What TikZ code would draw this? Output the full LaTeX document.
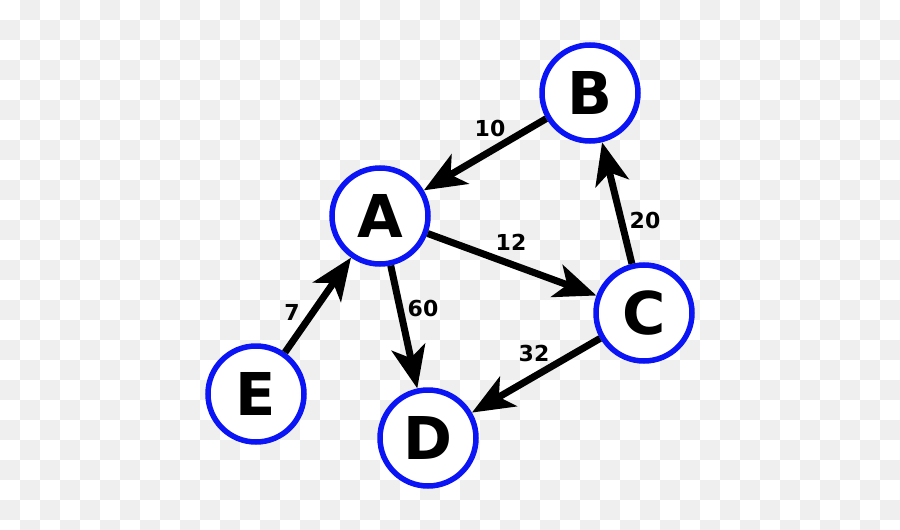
\documentclass[tikz,border=0pt]{standalone}
\usepackage{fontspec}
\setmainfont{DejaVu Sans}
\usetikzlibrary{arrows.meta}
\definecolor{chk}{HTML}{EFEFEF}
\definecolor{nodeblue}{HTML}{0A14F5}
\tikzset{
  vert/.style={circle, draw=nodeblue, fill=white, line width=5.5pt, minimum size=96pt, inner sep=0pt, font=\fontsize{59}{60}\selectfont\bfseries},
  edge/.style={line width=7pt, -{Stealth[length=42pt, width=34pt, inset=11pt]}},
  wlabel/.style={font=\fontsize{22}{24}\selectfont\bfseries, inner sep=0pt}
}
\begin{document}
\begin{tikzpicture}[x=1pt, y=-1pt]
\useasboundingbox (0,0) rectangle (900,530);
\clip (0,0) rectangle (900,530);
\fill[white] (0,0) rectangle (900,530);
\foreach \i in {0,...,44}{\foreach \j in {0,...,26}{%
  \pgfmathtruncatemacro\k{mod(\i+\j,2)}%
  \ifnum\k=1 \fill[chk] (\i*20,\j*20) rectangle ++(20,20);\fi}}
\node[vert] (A) at (380,216) {A};
\node[vert] (B) at (590,93) {B};
\node[vert] (C) at (644,313) {C};
\node[vert] (D) at (428,438) {D};
\node[vert] (E) at (256,394) {E};
\draw[edge] (B) -- (A);
\draw[edge] (A) -- (C);
\draw[edge] (C) -- (B);
\draw[edge] (A) -- (D);
\draw[edge] (C) -- (D);
\draw[edge] (E) -- (A);
\node[wlabel] (l10) at (490,128) {10};
\node[wlabel] (l12) at (511,242) {12};
\node[wlabel] (l20) at (645,220) {20};
\node[wlabel] (l60) at (423,308) {60};
\node[wlabel] (l32) at (534,353) {32};
\node[wlabel] (l7) at (292,312) {7};
\end{tikzpicture}
\end{document}
